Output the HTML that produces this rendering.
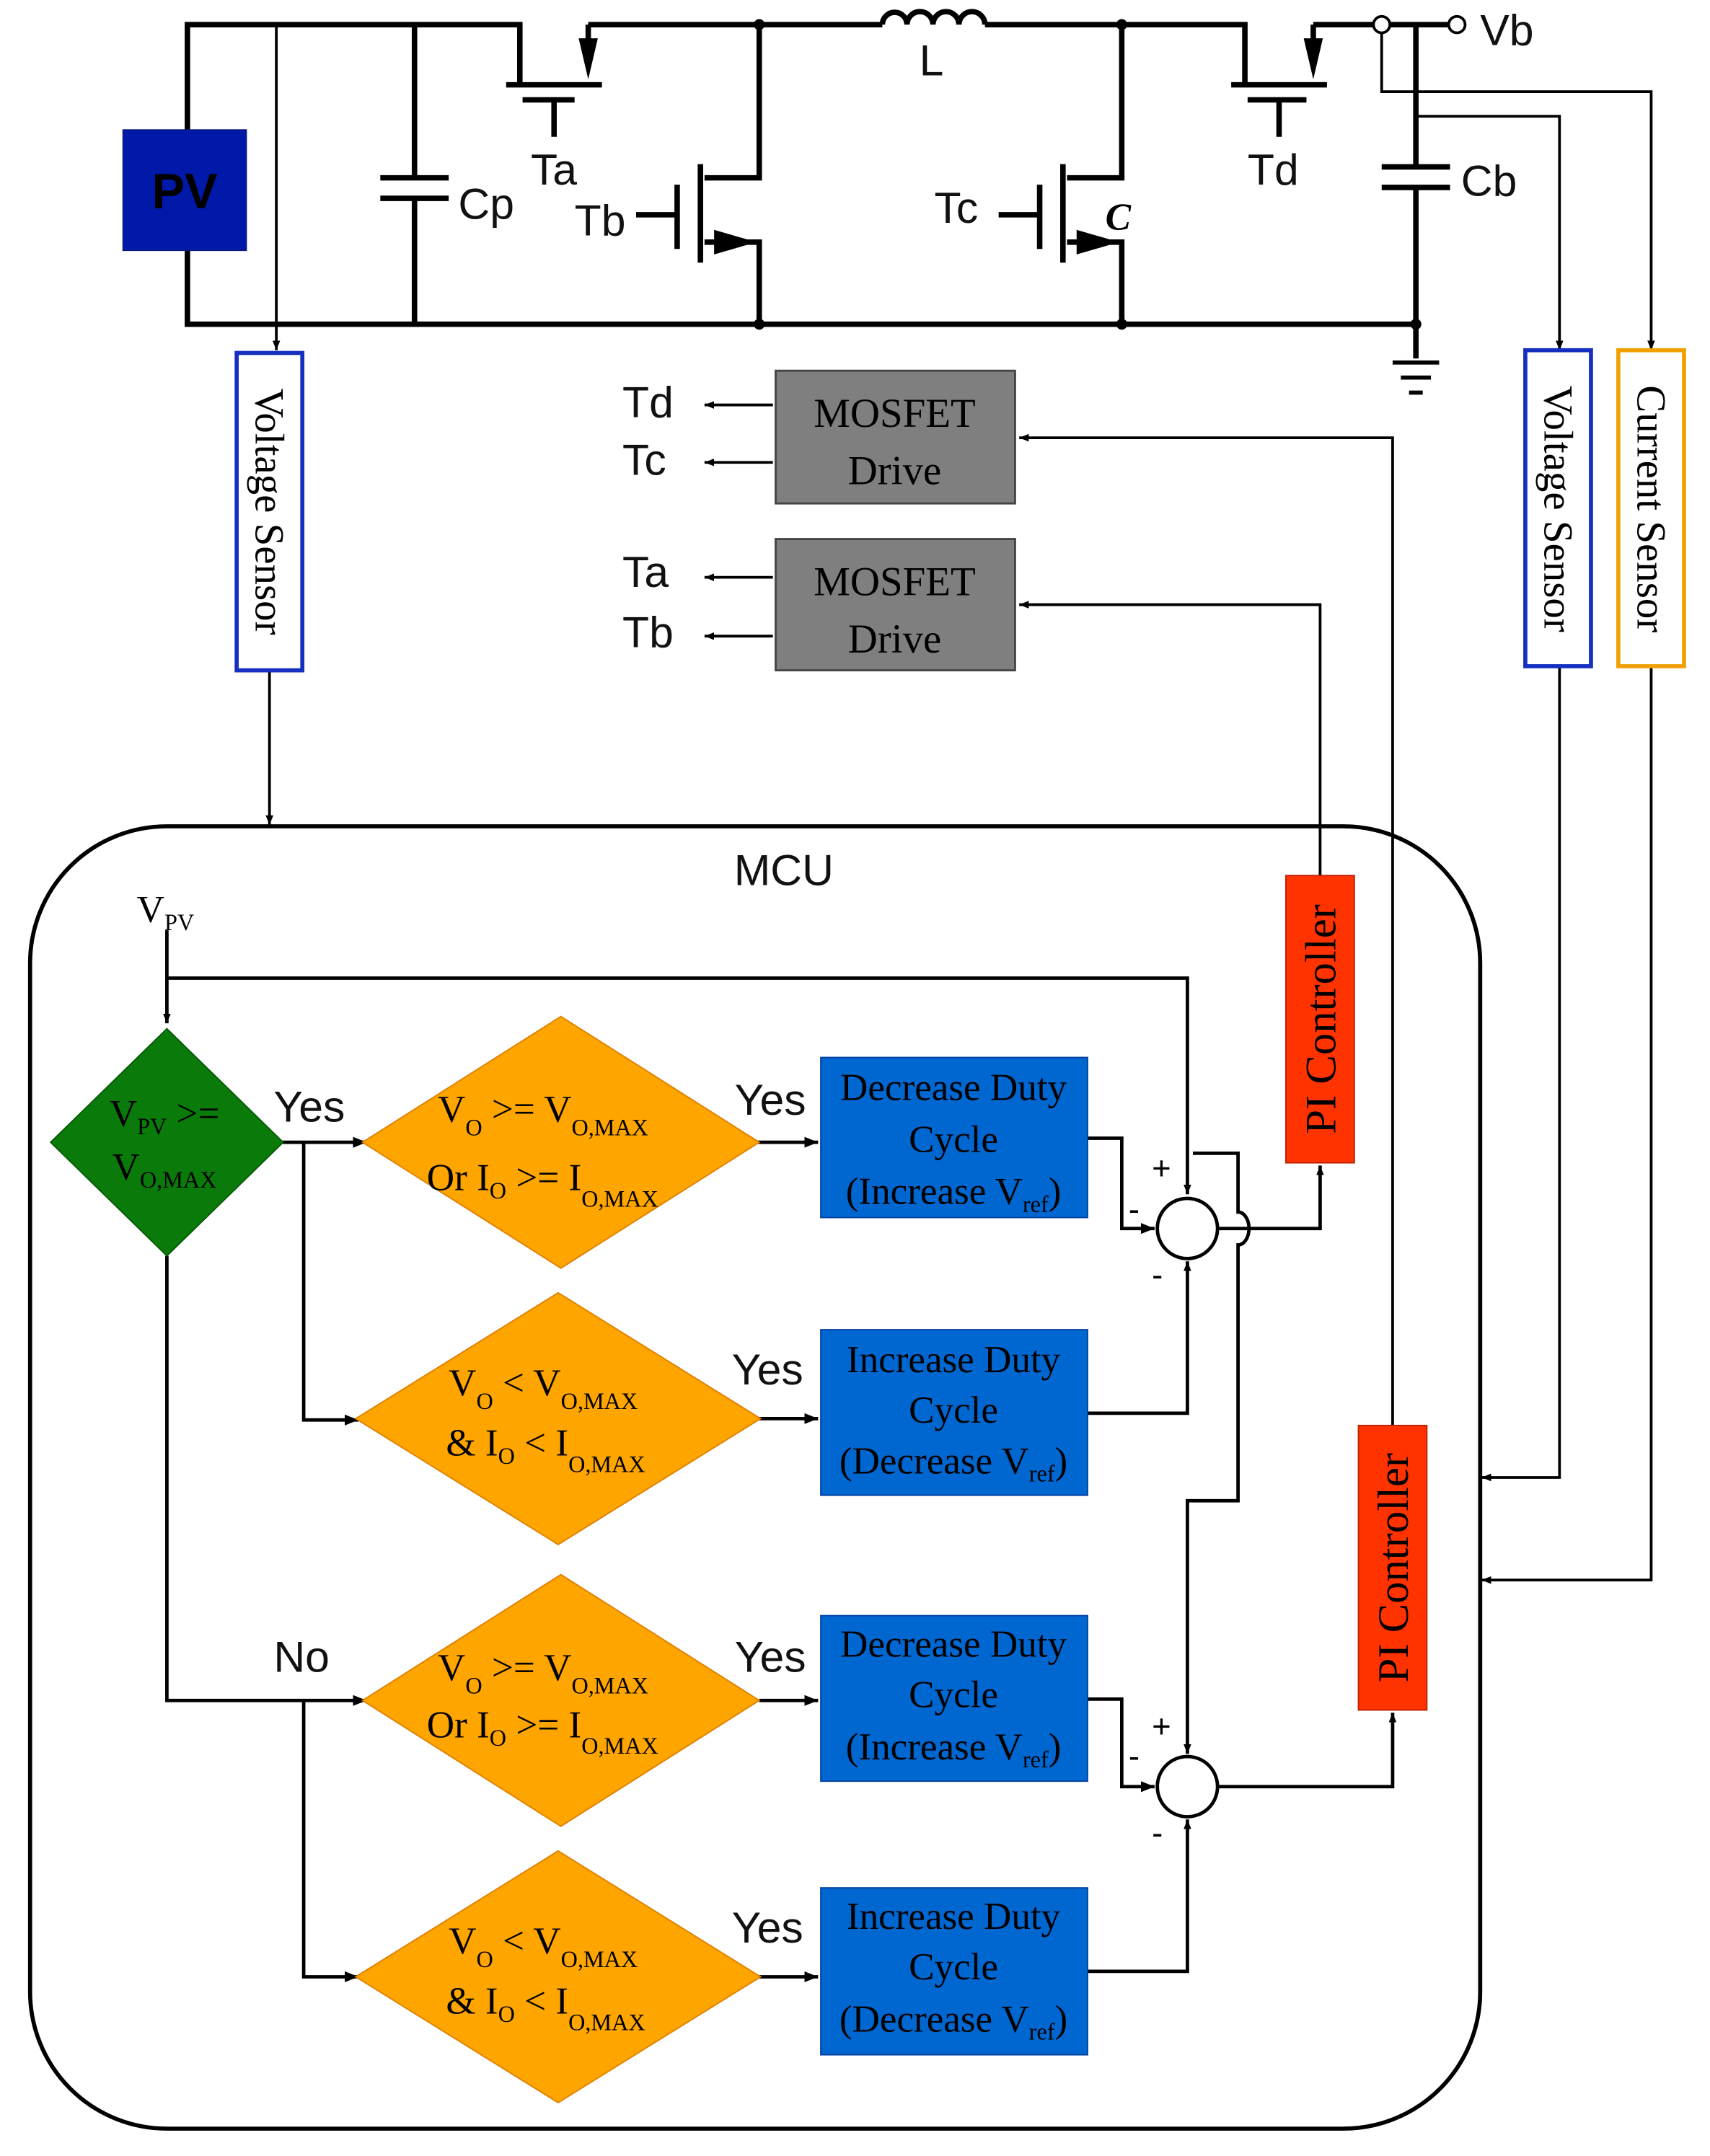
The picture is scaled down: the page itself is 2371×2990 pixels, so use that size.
<!DOCTYPE html>
<html><head><meta charset="utf-8"><style>
html,body{margin:0;padding:0;background:#fff}
svg{display:block}
.s{font-family:"Liberation Sans",sans-serif}
.r{font-family:"Liberation Serif",serif}
</style></head><body>
<svg width="2371" height="2990" viewBox="0 0 1250 1576" preserveAspectRatio="none" xmlns="http://www.w3.org/2000/svg">
<defs>
<marker id="a" viewBox="0 0 10 10" refX="10" refY="5" markerWidth="7" markerHeight="7" markerUnits="userSpaceOnUse" orient="auto"><path d="M0,1 L10,5 L0,9 z" fill="#000"/></marker>
<marker id="b" viewBox="0 0 10 10" refX="10" refY="5" markerWidth="10" markerHeight="10" markerUnits="userSpaceOnUse" orient="auto"><path d="M0,1 L10,5 L0,9 z" fill="#000"/></marker>
</defs>
<g fill="none" stroke="#000" stroke-width="4">
<!-- rails -->
<path d="M137,95 V18 H380 V62"/>
<path d="M430,18 H645"/>
<path d="M720,18 H910 V62"/>
<path d="M960,18 H1065"/>
<path d="M137,183 V237 H1035"/>
<!-- inductor -->
<path d="M645,18 a9,9 0 0 1 18,0 a9,9 0 0 1 19,0 a9,9 0 0 1 19,0 a9,9 0 0 1 19,0"/>
<!-- Ta -->
<path d="M370,62 H440 M382,73 H420 M405,73 V100 M430,18 V40"/>
<!-- Td -->
<path d="M900,62 H970 M912,73 H955 M935,73 V100 M960,18 V40"/>
<!-- Cp -->
<path d="M303,18 V130 M278,130 H328 M278,145 H328 M303,145 V237"/>
<!-- Tb -->
<path d="M555,18 V130 H515 M512,120 V192 M495,135 V182 M465,157 H495 M515,177 H555 V237"/>
<!-- Tc -->
<path d="M820,18 V130 H780 M777,120 V192 M760,135 V182 M730,157 H760 M780,177 H820 V237"/>
<!-- Cb -->
<path d="M1035,18 V122 M1010,122 H1060 M1010,137 H1060 M1035,137 V262"/>
<path d="M1018,265 H1052 M1024,276 H1046 M1030,287 H1040" stroke-width="3"/>
</g>
<path d="M423,28 L437,28 L430,58 z M953,28 L967,28 L960,58 z M522,168 L522,186 L553,177 z M787,168 L787,186 L818,177 z" fill="#000"/>
<g fill="#000"><circle cx="555" cy="18" r="4"/><circle cx="555" cy="237" r="4"/><circle cx="820" cy="18" r="4"/><circle cx="820" cy="237" r="4"/><circle cx="1035" cy="237" r="4"/></g>
<circle cx="1010" cy="18" r="6" fill="#fff" stroke="#000" stroke-width="2"/>
<circle cx="1065" cy="18" r="6" fill="#fff" stroke="#000" stroke-width="2"/>
<rect x="90" y="95" width="90" height="88" fill="#0019a8" stroke="#0a1a80"/>
<text x="135" y="152" class="s" font-size="36" font-weight="bold" text-anchor="middle">PV</text>
<g class="s" font-size="32" fill="#111">
<text x="335" y="160">Cp</text><text x="388" y="135">Ta</text><text x="420" y="172">Tb</text>
<text x="672" y="55">L</text><text x="683" y="163">Tc</text><text x="912" y="135">Td</text>
<text x="1068" y="143">Cb</text><text x="1082" y="33">Vb</text>
<text x="455" y="305">Td</text><text x="455" y="347">Tc</text><text x="455" y="429">Ta</text><text x="455" y="473">Tb</text>
<text x="573" y="647" text-anchor="middle">MCU</text>
</g>
<text x="808" y="168" class="r" font-size="28" font-style="italic" font-weight="bold">C</text>
<!-- sensor lines -->
<g fill="none" stroke="#000" stroke-width="2">
<path d="M202,18 V256" marker-end="url(#a)"/>
<path d="M1010,24 V67 H1207 V256" marker-end="url(#a)"/>
<path d="M1035,85 H1140 V256" marker-end="url(#a)"/>
<path d="M197,490 V603" marker-end="url(#a)"/>
<path d="M1140,487 V1080 H1083" marker-end="url(#a)"/>
<path d="M1207,487 V1155 H1083" marker-end="url(#a)"/>
<path d="M1018,1042 V320 H745" marker-end="url(#a)"/>
<path d="M965,640 V442 H745" marker-end="url(#a)"/>
<path d="M565,296 H515" marker-end="url(#a)"/>
<path d="M565,338 H515" marker-end="url(#a)"/>
<path d="M565,422 H515" marker-end="url(#a)"/>
<path d="M565,465 H515" marker-end="url(#a)"/>
</g>
<!-- sensor boxes -->
<rect x="173" y="258" width="48" height="232" fill="#fff" stroke="#1530c0" stroke-width="3"/>
<rect x="1115" y="256" width="48" height="231" fill="#fff" stroke="#1530c0" stroke-width="3"/>
<rect x="1183" y="256" width="48" height="231" fill="#fff" stroke="#f0a000" stroke-width="3"/>
<g class="r" font-size="30" fill="#000" text-anchor="middle">
<text transform="translate(187,374) rotate(90)">Voltage Sensor</text>
<text transform="translate(1129,372) rotate(90)">Voltage Sensor</text>
<text transform="translate(1197,372) rotate(90)">Current Sensor</text>
</g>
<!-- MOSFET drive -->
<rect x="567" y="271" width="175" height="97" fill="#7f7f7f" stroke="#444" stroke-width="1.5"/>
<rect x="567" y="394" width="175" height="96" fill="#7f7f7f" stroke="#444" stroke-width="1.5"/>
<g class="r" font-size="30" text-anchor="middle" fill="#000">
<text x="654" y="312">MOSFET</text><text x="654" y="354">Drive</text>
<text x="654" y="435">MOSFET</text><text x="654" y="477">Drive</text>
</g>
<!-- MCU -->
<rect x="22" y="604" width="1060" height="952" rx="100" ry="100" fill="none" stroke="#000" stroke-width="3"/>
<!-- PI controllers -->
<rect x="940" y="640" width="50" height="210" fill="#ff3300" stroke="#c02000"/>
<rect x="993" y="1042" width="50" height="208" fill="#ff3300" stroke="#c02000"/>
<g class="r" font-size="32" fill="#000" text-anchor="middle">
<text transform="translate(976,745) rotate(-90)">PI Controller</text>
<text transform="translate(1029,1146) rotate(-90)">PI Controller</text>
</g>
<!-- flowchart lines -->
<g fill="none" stroke="#000" stroke-width="2.5">
<path d="M122,680 V748" marker-end="url(#a)"/>
<path d="M122,715 H868 V873" marker-end="url(#a)"/>
<path d="M205,835 H268" marker-end="url(#b)"/>
<path d="M553,835 H598" marker-end="url(#b)"/>
<path d="M222,835 V1038 H262" marker-end="url(#b)"/>
<path d="M555,1037 H598" marker-end="url(#b)"/>
<path d="M795,832 H820 V898 H844" marker-end="url(#b)"/>
<path d="M795,1033 H868 V922" marker-end="url(#a)"/>
<path d="M890,898 H965 V852" marker-end="url(#a)"/>
<path d="M872,843 H905 V886 a8,12 0 0 1 0,24 V1097 H868 V1282" marker-end="url(#a)"/>
<path d="M122,918 V1243 H268" marker-end="url(#b)"/>
<path d="M555,1243 H598" marker-end="url(#b)"/>
<path d="M222,1243 V1445 H262" marker-end="url(#b)"/>
<path d="M555,1445 H598" marker-end="url(#b)"/>
<path d="M795,1242 H820 V1306 H844" marker-end="url(#b)"/>
<path d="M795,1441 H868 V1330" marker-end="url(#a)"/>
<path d="M890,1306 H1018 V1252" marker-end="url(#a)"/>
</g>
<circle cx="868" cy="898" r="22" fill="#fff" stroke="#000" stroke-width="2.5"/>
<circle cx="868" cy="1306" r="22" fill="#fff" stroke="#000" stroke-width="2.5"/>
<g class="s" font-size="24" fill="#000">
<text x="842" y="862">+</text><text x="825" y="892">-</text><text x="842" y="940">-</text>
<text x="842" y="1270">+</text><text x="825" y="1292">-</text><text x="842" y="1348">-</text>
</g>
<!-- diamonds -->
<polygon points="122,752 207,835 122,918 37,835" fill="#0a7a0a" stroke="#065a06"/>
<polygon points="410,743 555,835 410,927 265,835" fill="#ffa500" stroke="#e08000"/>
<polygon points="408,945 556,1037 408,1129 260,1037" fill="#ffa500" stroke="#e08000"/>
<polygon points="410,1151 555,1243 410,1335 265,1243" fill="#ffa500" stroke="#e08000"/>
<polygon points="408,1353 556,1445 408,1537 260,1445" fill="#ffa500" stroke="#e08000"/>
<!-- blue boxes -->
<rect x="600" y="773" width="195" height="117" fill="#0066d0" stroke="#0040a0"/>
<rect x="600" y="972" width="195" height="121" fill="#0066d0" stroke="#0040a0"/>
<rect x="600" y="1181" width="195" height="121" fill="#0066d0" stroke="#0040a0"/>
<rect x="600" y="1380" width="195" height="122" fill="#0066d0" stroke="#0040a0"/>
<g class="r" font-size="28" fill="#000" text-anchor="middle">
<text x="697" y="804">Decrease Duty</text><text x="697" y="842">Cycle</text><text x="697" y="880">(Increase V<tspan font-size="17" dy="6">ref</tspan><tspan dy="-6">)</tspan></text>
<text x="697" y="1003">Increase Duty</text><text x="697" y="1040">Cycle</text><text x="697" y="1077">(Decrease V<tspan font-size="17" dy="6">ref</tspan><tspan dy="-6">)</tspan></text>
<text x="697" y="1211">Decrease Duty</text><text x="697" y="1248">Cycle</text><text x="697" y="1286">(Increase V<tspan font-size="17" dy="6">ref</tspan><tspan dy="-6">)</tspan></text>
<text x="697" y="1410">Increase Duty</text><text x="697" y="1447">Cycle</text><text x="697" y="1485">(Decrease V<tspan font-size="17" dy="6">ref</tspan><tspan dy="-6">)</tspan></text>
</g>
<g class="r" font-size="28" fill="#000">
<text x="100" y="674">V<tspan font-size="17" dy="6">PV</tspan></text>
<text x="80" y="823">V<tspan font-size="17" dy="6">PV</tspan><tspan dy="-6"> &gt;=</tspan></text>
<text x="82" y="862">V<tspan font-size="17" dy="6">O,MAX</tspan></text>
<text x="320" y="820">V<tspan font-size="17" dy="10">O</tspan><tspan dy="-10"> &gt;= V</tspan><tspan font-size="17" dy="10">O,MAX</tspan></text>
<text x="312" y="870">Or I<tspan font-size="17" dy="6">O</tspan><tspan dy="-6"> &gt;= I</tspan><tspan font-size="17" dy="12">O,MAX</tspan></text>
<text x="328" y="1020">V<tspan font-size="17" dy="10">O</tspan><tspan dy="-10"> &lt; V</tspan><tspan font-size="17" dy="10">O,MAX</tspan></text>
<text x="326" y="1064">&amp; I<tspan font-size="17" dy="6">O</tspan><tspan dy="-6"> &lt; I</tspan><tspan font-size="17" dy="12">O,MAX</tspan></text>
<text x="320" y="1228">V<tspan font-size="17" dy="10">O</tspan><tspan dy="-10"> &gt;= V</tspan><tspan font-size="17" dy="10">O,MAX</tspan></text>
<text x="312" y="1270">Or I<tspan font-size="17" dy="6">O</tspan><tspan dy="-6"> &gt;= I</tspan><tspan font-size="17" dy="12">O,MAX</tspan></text>
<text x="328" y="1428">V<tspan font-size="17" dy="10">O</tspan><tspan dy="-10"> &lt; V</tspan><tspan font-size="17" dy="10">O,MAX</tspan></text>
<text x="326" y="1472">&amp; I<tspan font-size="17" dy="6">O</tspan><tspan dy="-6"> &lt; I</tspan><tspan font-size="17" dy="12">O,MAX</tspan></text>
</g>
<g class="s" font-size="32" fill="#111">
<text x="200" y="820">Yes</text><text x="537" y="815">Yes</text><text x="535" y="1012">Yes</text>
<text x="200" y="1222">No</text><text x="537" y="1222">Yes</text><text x="535" y="1420">Yes</text>
</g>
</svg>
</body></html>
